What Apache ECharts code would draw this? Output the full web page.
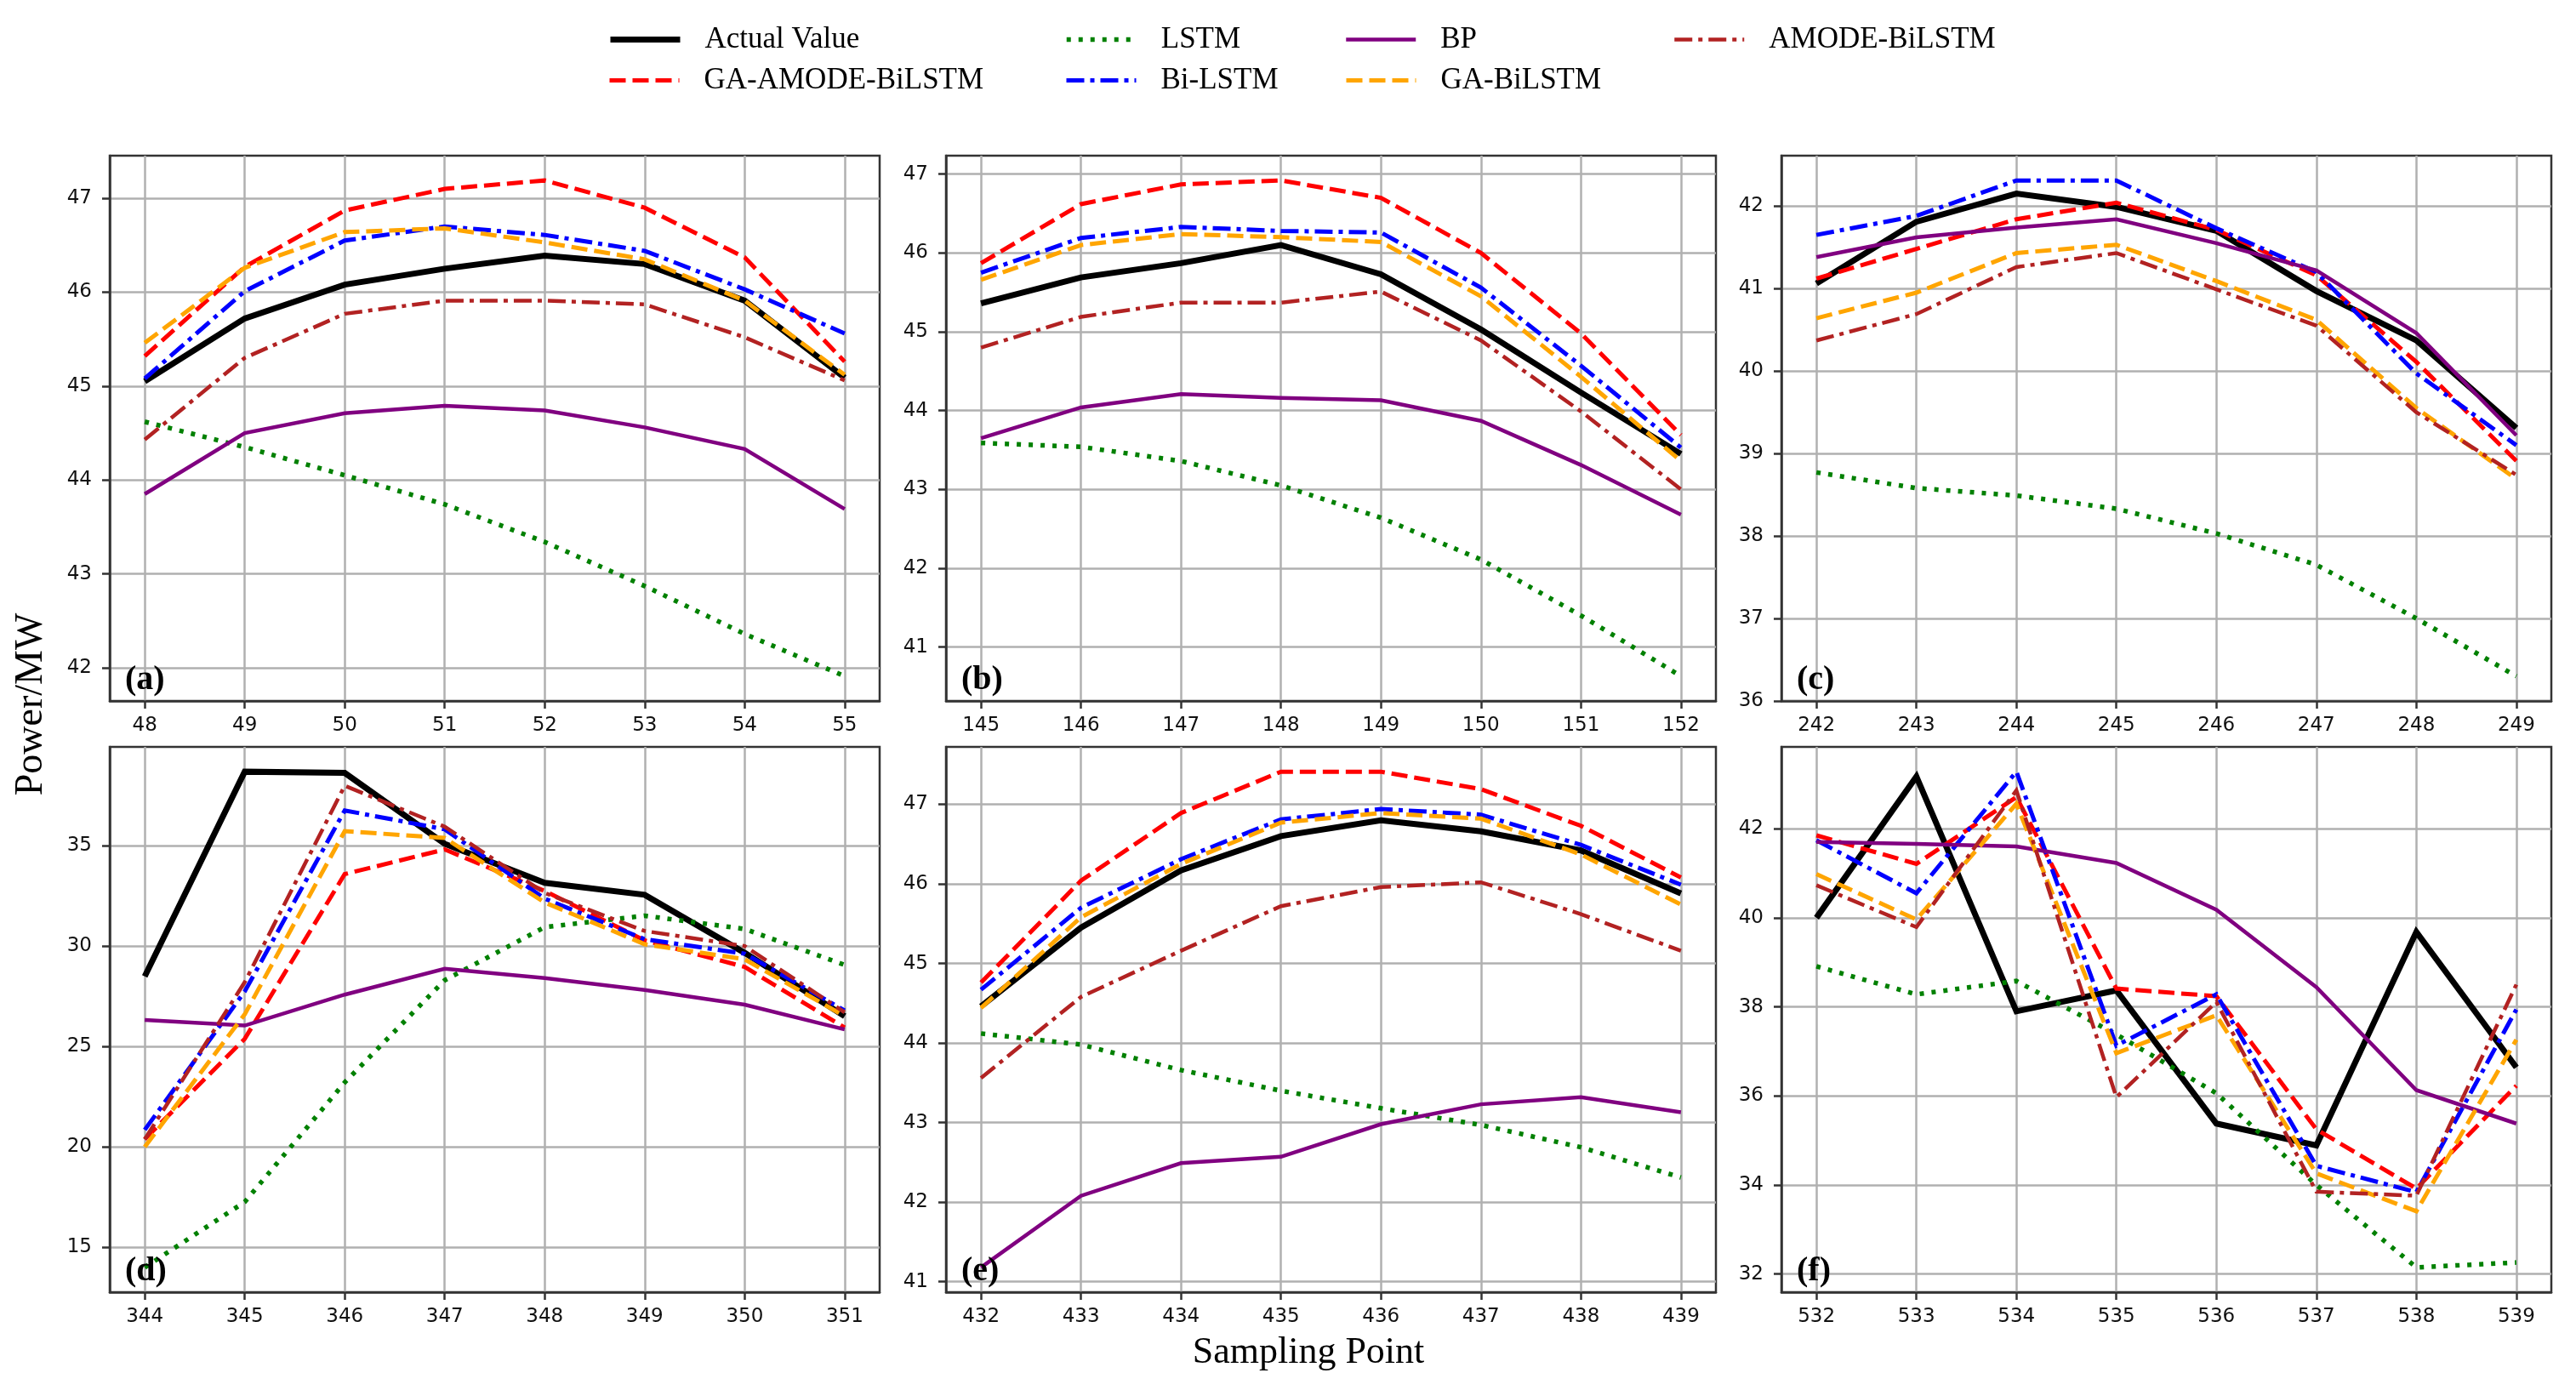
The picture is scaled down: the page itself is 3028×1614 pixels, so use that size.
<!DOCTYPE html>
<html>
<head>
<meta charset="utf-8">
<script src="https://cdn.jsdelivr.net/npm/echarts@6/dist/echarts.min.js"></script>
<style>
html,body{margin:0;padding:0;background:#fff;}
#chart{width:3028px;height:1614px;}
</style>
</head>
<body>
<div id="chart"></div>
<script>
// ---------------- DATA ----------------
const X_A = [48, 49, 50, 51, 52, 53, 54, 55];
const A_ACTUAL    = [45.05, 45.72, 46.08, 46.25, 46.39, 46.30, 45.91, 45.09];
const A_GA_AMODE  = [45.32, 46.27, 46.87, 47.10, 47.19, 46.90, 46.37, 45.26];
const A_LSTM      = [44.62, 44.35, 44.05, 43.74, 43.34, 42.87, 42.36, 41.91];
const A_BILSTM    = [45.08, 46.01, 46.55, 46.70, 46.61, 46.44, 46.03, 45.56];
const A_BP        = [43.85, 44.50, 44.71, 44.79, 44.74, 44.56, 44.33, 43.69];
const A_GA_BILSTM = [45.46, 46.26, 46.64, 46.68, 46.53, 46.35, 45.91, 45.12];
const A_AMODE     = [44.43, 45.30, 45.77, 45.91, 45.91, 45.87, 45.52, 45.06];

const X_B = [145, 146, 147, 148, 149, 150, 151, 152];
const B_ACTUAL    = [45.36, 45.69, 45.87, 46.10, 45.73, 45.03, 44.23, 43.45];
const B_GA_AMODE  = [45.87, 46.62, 46.87, 46.92, 46.70, 46.00, 44.98, 43.69];
const B_LSTM      = [43.59, 43.54, 43.36, 43.05, 42.64, 42.11, 41.40, 40.63];
const B_BILSTM    = [45.75, 46.19, 46.33, 46.28, 46.26, 45.56, 44.57, 43.53];
const B_BP        = [43.65, 44.04, 44.21, 44.16, 44.13, 43.87, 43.31, 42.68];
const B_GA_BILSTM = [45.66, 46.10, 46.24, 46.20, 46.14, 45.45, 44.43, 43.36];
const B_AMODE     = [44.80, 45.19, 45.37, 45.37, 45.51, 44.89, 43.99, 43.00];

const X_C = [242, 243, 244, 245, 246, 247, 248, 249];
const C_ACTUAL    = [41.06, 41.81, 42.15, 41.99, 41.70, 40.97, 40.37, 39.31];
const C_GA_AMODE  = [41.12, 41.48, 41.84, 42.04, 41.71, 41.16, 40.11, 38.91];
const C_LSTM      = [38.77, 38.58, 38.49, 38.33, 38.03, 37.65, 37.00, 36.30];
const C_BILSTM    = [41.65, 41.88, 42.31, 42.31, 41.73, 41.20, 39.97, 39.10];
const C_BP        = [41.38, 41.62, 41.74, 41.84, 41.55, 41.22, 40.46, 39.22];
const C_GA_BILSTM = [40.64, 40.95, 41.43, 41.53, 41.09, 40.62, 39.55, 38.69];
const C_AMODE     = [40.37, 40.69, 41.26, 41.43, 40.99, 40.55, 39.50, 38.74];

const X_D = [344, 345, 346, 347, 348, 349, 350, 351];
const D_ACTUAL    = [28.49, 38.68, 38.62, 35.09, 33.15, 32.55, 29.66, 26.51];
const D_GA_AMODE  = [20.38, 25.38, 33.58, 34.81, 32.74, 30.28, 28.96, 25.94];
const D_LSTM      = [14.00, 17.26, 23.21, 28.30, 30.94, 31.51, 30.85, 29.06];
const D_BILSTM    = [20.85, 27.74, 36.75, 35.81, 32.36, 30.34, 29.62, 26.79];
const D_BP        = [26.32, 26.04, 27.58, 28.87, 28.40, 27.81, 27.08, 25.85];
const D_GA_BILSTM = [20.00, 26.60, 35.72, 35.38, 32.17, 30.09, 29.34, 26.51];
const D_AMODE     = [20.38, 28.20, 37.98, 35.94, 32.64, 30.75, 30.00, 26.70];

const X_E = [432, 433, 434, 435, 436, 437, 438, 439];
const E_ACTUAL    = [44.46, 45.45, 46.17, 46.60, 46.80, 46.66, 46.42, 45.88];
const E_GA_AMODE  = [44.76, 46.04, 46.89, 47.41, 47.41, 47.19, 46.73, 46.08];
const E_LSTM      = [44.12, 43.98, 43.66, 43.40, 43.18, 42.97, 42.69, 42.31];
const E_BILSTM    = [44.67, 45.70, 46.31, 46.81, 46.94, 46.87, 46.49, 45.99];
const E_BP        = [41.18, 42.08, 42.49, 42.57, 42.98, 43.23, 43.32, 43.13];
const E_GA_BILSTM = [44.44, 45.58, 46.25, 46.77, 46.89, 46.82, 46.37, 45.74];
const E_AMODE     = [43.56, 44.58, 45.16, 45.72, 45.96, 46.02, 45.62, 45.16];

const X_F = [532, 533, 534, 535, 536, 537, 538, 539];
const F_ACTUAL    = [40.00, 43.17, 37.90, 38.37, 35.38, 34.89, 39.68, 36.64];
const F_GA_AMODE  = [41.85, 41.21, 42.71, 38.41, 38.24, 35.25, 33.92, 36.23];
const F_LSTM      = [38.91, 38.28, 38.58, 37.38, 36.06, 34.00, 32.15, 32.26];
const F_BILSTM    = [41.74, 40.55, 43.28, 37.13, 38.28, 34.43, 33.84, 37.94];
const F_BP        = [41.70, 41.66, 41.60, 41.23, 40.18, 38.44, 36.13, 35.38];
const F_GA_BILSTM = [40.98, 39.96, 42.56, 36.96, 37.81, 34.26, 33.41, 37.26];
const F_AMODE     = [40.73, 39.79, 42.86, 35.97, 38.11, 33.85, 33.76, 38.50];

const Y_TICKS_A = [42, 43, 44, 45, 46, 47];
const Y_TICKS_B = [41, 42, 43, 44, 45, 46, 47];
const Y_TICKS_C = [36, 37, 38, 39, 40, 41, 42];
const Y_TICKS_D = [15, 20, 25, 30, 35];
const Y_TICKS_E = [41, 42, 43, 44, 45, 46, 47];
const Y_TICKS_F = [32, 34, 36, 38, 40, 42];

const MODEL_NAMES = ['Actual Value', 'GA-AMODE-BiLSTM', 'LSTM', 'Bi-LSTM', 'BP', 'GA-BiLSTM', 'AMODE-BiLSTM'];
const PANEL_LABELS = ['(a)', '(b)', '(c)', '(d)', '(e)', '(f)'];

// ---------------- STYLE ----------------
const MODEL_STYLES = [
  {color: '#000000', width: 7,   type: 'solid'},
  {color: '#ff0000', width: 5,   type: [19, 8]},
  {color: '#008000', width: 5.5, type: [5, 9]},
  {color: '#0000ff', width: 5,   type: [21, 7, 5, 7]},
  {color: '#800080', width: 4.5, type: 'solid'},
  {color: '#ffa500', width: 5,   type: [19, 8]},
  {color: '#b22222', width: 4.5, type: [21, 7, 5, 7]}
];

const PANELS = [
  {x: X_A, yt: Y_TICKS_A, s: [A_ACTUAL, A_GA_AMODE, A_LSTM, A_BILSTM, A_BP, A_GA_BILSTM, A_AMODE]},
  {x: X_B, yt: Y_TICKS_B, s: [B_ACTUAL, B_GA_AMODE, B_LSTM, B_BILSTM, B_BP, B_GA_BILSTM, B_AMODE]},
  {x: X_C, yt: Y_TICKS_C, s: [C_ACTUAL, C_GA_AMODE, C_LSTM, C_BILSTM, C_BP, C_GA_BILSTM, C_AMODE]},
  {x: X_D, yt: Y_TICKS_D, s: [D_ACTUAL, D_GA_AMODE, D_LSTM, D_BILSTM, D_BP, D_GA_BILSTM, D_AMODE]},
  {x: X_E, yt: Y_TICKS_E, s: [E_ACTUAL, E_GA_AMODE, E_LSTM, E_BILSTM, E_BP, E_GA_BILSTM, E_AMODE]},
  {x: X_F, yt: Y_TICKS_F, s: [F_ACTUAL, F_GA_AMODE, F_LSTM, F_BILSTM, F_BP, F_GA_BILSTM, F_AMODE]}
];

const GRID_LEFTS = [129, 1112, 2094];
const GRID_TOPS = [183, 878];
const GRID_W = 905, GRID_H = 641;

const SPINE = '#333333';
const GRIDC = '#b0b0b0';
const TICKFONT = 'DejaVu Sans';
const SERIF = 'Liberation Serif';

const grids = [], xAxes = [], yAxes = [], series = [], graphics = [];

PANELS.forEach((p, i) => {
  const col = i % 3, row = Math.floor(i / 3);
  const left = GRID_LEFTS[col], top = GRID_TOPS[row];
  grids.push({left: left, top: top, width: GRID_W, height: GRID_H, show: true,
              borderColor: SPINE, borderWidth: 2.5, backgroundColor: 'transparent'});
  // matplotlib-like 5% margins
  const xr = p.x[p.x.length - 1] - p.x[0];
  let lo = Infinity, hi = -Infinity;
  p.s.forEach(a => a.forEach(v => { lo = Math.min(lo, v); hi = Math.max(hi, v); }));
  const yr = hi - lo;
  xAxes.push({
    type: 'value', gridIndex: i,
    min: p.x[0] - 0.05 * xr, max: p.x[p.x.length - 1] + 0.05 * xr,
    axisLine: {show: true, onZero: false, lineStyle: {color: SPINE, width: 2.5}},
    axisTick: {show: true, inside: false, length: 9, lineStyle: {color: SPINE, width: 2.5}, customValues: p.x},
    axisLabel: {show: true, customValues: p.x, margin: 18, fontFamily: TICKFONT, fontSize: 23, color: '#111'},
    splitLine: {show: true, lineStyle: {color: GRIDC, width: 2.5}}
  });
  yAxes.push({
    type: 'value', gridIndex: i,
    min: lo - 0.05 * yr, max: hi + 0.05 * yr,
    axisLine: {show: true, onZero: false, lineStyle: {color: SPINE, width: 2.5}},
    axisTick: {show: true, inside: false, length: 9, lineStyle: {color: SPINE, width: 2.5}, customValues: p.yt},
    axisLabel: {show: true, customValues: p.yt, margin: 21, fontFamily: TICKFONT, fontSize: 23, color: '#111'},
    splitLine: {show: true, lineStyle: {color: GRIDC, width: 2.5}}
  });
  p.s.forEach((vals, m) => {
    const st = MODEL_STYLES[m];
    series.push({
      type: 'line', name: MODEL_NAMES[m], xAxisIndex: i, yAxisIndex: i,
      data: p.x.map((xv, k) => [xv, vals[k]]),
      symbol: 'none', showSymbol: false, animation: false, silent: true,
      lineStyle: {color: st.color, width: st.width, type: st.type, cap: 'butt', join: 'miter'},
      itemStyle: {color: st.color},
      z: 2 + m
    });
  });
  graphics.push({
    type: 'text', left: left + 18, top: top + GRID_H - 44, z: 100,
    style: {text: PANEL_LABELS[i], font: 'bold 40px "' + SERIF + '"', fill: '#000'}
  });
});

graphics.push({
  type: 'text', x: 37, y: 828, rotation: Math.PI / 2, z: 100,
  style: {text: 'Power/MW', font: '46px "' + SERIF + '"', fill: '#000', textAlign: 'center', textVerticalAlign: 'middle'}
});
graphics.push({
  type: 'text', x: 1538, y: 1590, z: 100,
  style: {text: 'Sampling Point', font: '44px "' + SERIF + '"', fill: '#000', textAlign: 'center', textVerticalAlign: 'middle'}
});

// legend: 4 columns x 2 rows, column-major like matplotlib
const LEG_COLS = [714, 1251, 1580, 1966];
const LEG_ROWS = [41, 89];
const legends = MODEL_NAMES.map((nm, m) => {
  const col = Math.floor(m / 2), row = m % 2;
  const st = MODEL_STYLES[m];
  return {
    data: [nm], left: LEG_COLS[col], top: LEG_ROWS[row] - 12,
    itemWidth: 82, itemHeight: 20, padding: 0, selectedMode: false,
    itemStyle: {opacity: 0},
    lineStyle: {width: st.width, color: st.color, type: st.type, cap: 'butt'},
    textStyle: {fontFamily: SERIF, fontSize: 35, color: '#000', padding: [0, 0, 0, 24]}
  };
});

const chart = echarts.init(document.getElementById('chart'), null, {renderer: 'canvas'});
chart.setOption({
  backgroundColor: '#fff',
  animation: false,
  grid: grids, xAxis: xAxes, yAxis: yAxes, series: series,
  legend: legends, graphic: graphics
});
</script>
</body>
</html>
